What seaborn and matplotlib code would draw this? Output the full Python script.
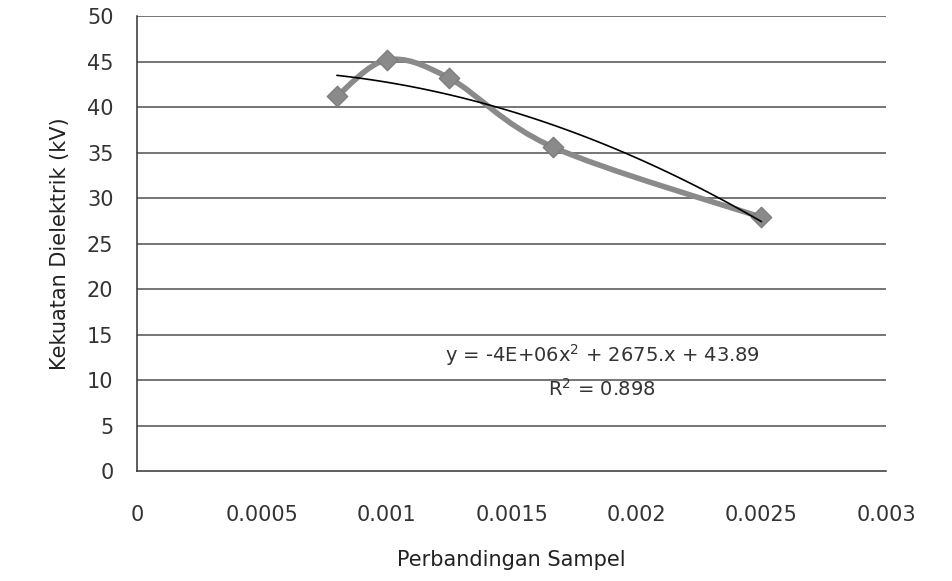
import numpy as np
import pandas as pd
import seaborn as sns
import matplotlib.pyplot as plt
from matplotlib.path import Path
from matplotlib.patches import PathPatch

# data
rasio = [0.0008, 0.001, 0.00125, 0.001667, 0.0025]
kekuatan = [41.2, 45.2, 43.2, 35.6, 27.9]
x_ticks = [0, 0.0005, 0.001, 0.0015, 0.002, 0.0025, 0.003]
x_ticklabels = ["0", "0.0005", "0.001", "0.0015", "0.002", "0.0025", "0.003"]
y_ticks = list(range(0, 55, 5))
persamaan = "y = -4E+06x$^2$ + 2675.x + 43.89"
r_kuadrat = "R$^2$ = 0.898"

df = pd.DataFrame({"x": rasio, "y": kekuatan})

sns.set_style("white")
plt.rcParams["font.family"] = ["DejaVu Sans"]

fig = plt.figure(figsize=(9.52, 5.81), dpi=100)
ax = fig.add_axes([0.144, 0.189, 0.787, 0.783])

# gridlines
for v in y_ticks[1:]:
    ax.axhline(v, color="#505050", lw=1.1, zorder=0)

# smoothed data line (Catmull-Rom -> cubic bezier, like Excel smoothing)
pts = np.column_stack([rasio, kekuatan])
verts = [tuple(pts[0])]
codes = [Path.MOVETO]
for i in range(len(pts) - 1):
    p0 = pts[i - 1] if i > 0 else pts[i]
    p1, p2 = pts[i], pts[i + 1]
    p3 = pts[i + 2] if i + 2 < len(pts) else pts[i + 1]
    c1 = p1 + (p2 - p0) / 6
    c2 = p2 - (p3 - p1) / 6
    verts += [tuple(c1), tuple(c2), tuple(p2)]
    codes += [Path.CURVE4] * 3
ax.add_patch(PathPatch(Path(verts, codes), fill=False, edgecolor="#8a8a8a",
                       lw=4, zorder=3, capstyle="round", joinstyle="round"))
sns.scatterplot(data=df, x="x", y="y", marker="D", s=110, color="#8a8a8a",
                edgecolor="#7a7a7a", ax=ax, zorder=4, legend=False)

# polynomial trendline
sns.regplot(data=df, x="x", y="y", order=2, ci=None, scatter=False, truncate=True,
            line_kws={"color": "black", "lw": 1.2, "zorder": 5}, ax=ax)

ax.text(0.001862, 12.75, persamaan, ha="center", va="center", fontsize=14, color="#333333")
ax.text(0.001862, 9.1, r_kuadrat, ha="center", va="center", fontsize=14, color="#333333")

ax.set_xlim(0, 0.003)
ax.set_ylim(0, 50)
ax.set_xticks(x_ticks)
ax.set_xticklabels(x_ticklabels)
ax.set_yticks(y_ticks)
ax.tick_params(axis="both", labelsize=15, colors="#333333", direction="out",
               length=5, width=1)
ax.tick_params(axis="y", pad=12)
ax.tick_params(axis="x", pad=19)
for s in ["top", "right"]:
    ax.spines[s].set_visible(False)
for s in ["left", "bottom"]:
    ax.spines[s].set_color("#333333")
    ax.spines[s].set_linewidth(1.1)

ax.set_xlabel("Perbandingan Sampel", fontsize=15, color="#222222", labelpad=18)
ax.set_ylabel("Kekuatan Dielektrik (kV)", fontsize=15, color="#222222", labelpad=12)

fig.savefig("out.png", dpi=100)
